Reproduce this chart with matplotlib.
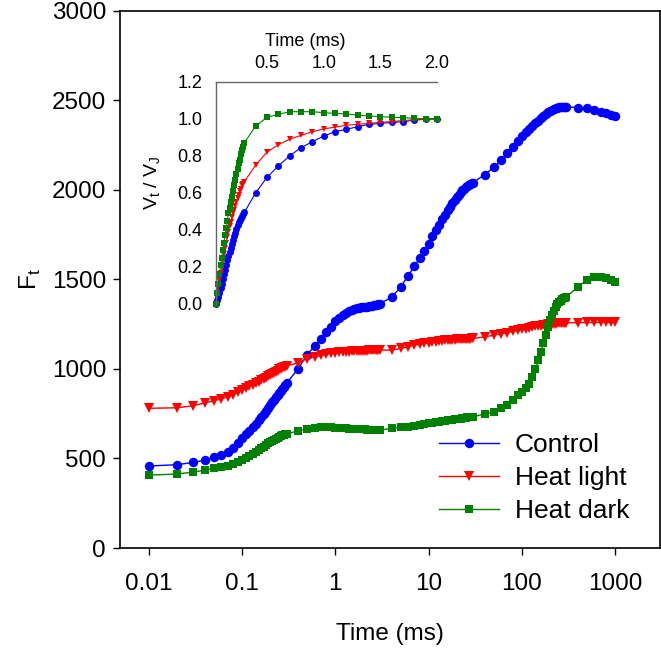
import numpy as np
import matplotlib
matplotlib.use("Agg")
import matplotlib.pyplot as plt

plt.rcParams["font.family"] = ["Liberation Sans", "DejaVu Sans"]

# -------------------------------
# main transient data (time in ms, Ft)
# -------------------------------

t_main = np.round(np.concatenate([
    np.arange(0.01, 0.305, 0.01),
    np.arange(0.4, 3.05, 0.1),
    np.arange(4, 31, 1),
    np.arange(40, 310, 10),
    np.arange(400, 1010, 100),
]), 3)

f_control = [
    458, 465, 478, 491, 506, 521, 537, 558, 585, 615,
    636, 656, 675, 694, 712, 730, 748, 766, 783, 800,
    814, 828, 841, 853, 865, 876, 888, 899, 910, 920,
    1002, 1080, 1129, 1168, 1205, 1235, 1265, 1285, 1300, 1312,
    1322, 1330, 1336, 1339, 1342, 1344, 1346, 1347, 1348, 1350,
    1351, 1352, 1354, 1355, 1358, 1361, 1365,
    1399, 1457, 1518, 1572, 1618, 1657, 1699, 1740, 1775, 1805,
    1835, 1860, 1885, 1905, 1925, 1942, 1958, 1972, 1985, 1996,
    2006, 2014, 2021, 2027, 2032, 2036, 2040,
    2085, 2125, 2165, 2205, 2240, 2272, 2300, 2323, 2340, 2356,
    2372, 2386, 2400, 2412, 2423, 2432, 2440, 2446, 2451, 2455,
    2458, 2460, 2461, 2462, 2463, 2463, 2463,
    2459, 2454, 2444, 2435, 2426, 2420, 2413,
]

f_heat_light = [
    780, 783, 794, 811, 822, 833, 844, 855, 869, 882,
    892, 902, 911, 920, 928, 936, 944, 951, 958, 965,
    972, 979, 985, 991, 997, 1001, 1005, 1009, 1013, 1016,
    1034, 1058, 1066, 1075, 1081, 1086, 1089, 1092, 1094, 1096,
    1097, 1098, 1099, 1100, 1100, 1101, 1101, 1102, 1102, 1103,
    1103, 1104, 1104, 1104, 1105, 1105, 1105,
    1105, 1114, 1124, 1133, 1137, 1142, 1146, 1149, 1152, 1154,
    1157, 1159, 1161, 1162, 1163, 1164, 1165, 1166, 1166, 1167,
    1167, 1168, 1168, 1169, 1169, 1170, 1170,
    1179, 1188, 1196, 1203, 1209, 1215, 1220, 1225, 1229, 1233,
    1237, 1240, 1242, 1244, 1246, 1248, 1250, 1251, 1252, 1253,
    1254, 1255, 1256, 1256, 1257, 1257, 1257,
    1258, 1259, 1259, 1260, 1260, 1260, 1260,
]

f_heat_dark = [
    407, 413, 424, 435, 445, 452, 460, 468, 478, 490,
    501, 512, 524, 536, 547, 557, 566, 575, 584, 592,
    599, 605, 611, 616, 621, 625, 629, 632, 634, 636,
    655, 664, 670, 673, 673, 673, 672, 671, 670, 668,
    667, 666, 665, 664, 663, 663, 662, 662, 661, 661,
    660, 660, 659, 659, 658, 658, 658,
    668, 673, 677, 681, 686, 691, 696, 699, 702, 705,
    708, 710, 712, 714, 716, 718, 720, 722, 723, 724,
    726, 727, 729, 730, 731, 732, 733,
    748, 761, 780, 798, 826, 854, 870, 891, 918, 955,
    1000, 1048, 1095, 1142, 1190, 1235, 1272, 1300, 1325, 1345,
    1360, 1372, 1381, 1388, 1394, 1398, 1402,
    1458, 1496, 1512, 1515, 1508, 1497, 1487,
]

# -------------------------------
# inset data (Vt / VJ, 0.05 - 2 ms)
# -------------------------------

t_inset = np.round(np.concatenate([
    np.arange(0.05, 0.305, 0.01),
    np.arange(0.4, 2.05, 0.1),
]), 3)

v_control = [
    0.0, 0.02, 0.04, 0.06, 0.085, 0.11, 0.135, 0.16, 0.185, 0.21,
    0.235, 0.26, 0.28, 0.30, 0.325, 0.345, 0.365, 0.385, 0.405, 0.425,
    0.44, 0.455, 0.465, 0.475, 0.485, 0.495,
    0.60, 0.684, 0.745, 0.80, 0.844, 0.876, 0.907, 0.93, 0.943, 0.957,
    0.97, 0.975, 0.98, 0.984, 0.993, 0.997, 1.0,
]

v_heat_light = [
    0.0, 0.05, 0.09, 0.13, 0.17, 0.20, 0.24, 0.27, 0.30, 0.33,
    0.36, 0.39, 0.42, 0.44, 0.47, 0.49, 0.51, 0.53, 0.55, 0.57,
    0.59, 0.61, 0.62, 0.64, 0.65, 0.66,
    0.75, 0.82, 0.86, 0.89, 0.91, 0.93, 0.945, 0.955, 0.965, 0.97,
    0.975, 0.98, 0.985, 0.99, 0.995, 0.998, 1.0,
]

v_heat_dark = [
    0.0, 0.06, 0.11, 0.16, 0.21, 0.25, 0.29, 0.33, 0.37, 0.41,
    0.45, 0.49, 0.52, 0.55, 0.58, 0.61, 0.64, 0.67, 0.70, 0.73,
    0.76, 0.78, 0.81, 0.83, 0.85, 0.87,
    0.961, 1.008, 1.024, 1.038, 1.038, 1.038, 1.033, 1.029, 1.026, 1.02,
    1.015, 1.011, 1.008, 1.006, 1.002, 1.0, 1.0,
]

labels = ["Control", "Heat light", "Heat dark"]
colors = ["#0000ff", "#ff0000", "#008000"]
markers = ["o", "v", "s"]


# -------------------------------
# main plot
# -------------------------------

fig = plt.figure(figsize=(6.61, 6.49), dpi=100)
ax = fig.add_axes([0.1815, 0.1556, 0.817, 0.828])

for f, lab, c, m, ms in zip([f_control, f_heat_light, f_heat_dark], labels,
                            colors, markers, [6.8, 6.8, 5.8]):
    ax.plot(t_main, f, color=c, marker=m, markersize=ms, lw=1,
            markeredgewidth=0, label=lab)

ax.set_xscale("log")
ax.set_xlim(0.0049, 3030)
ax.set_ylim(0, 3000)
ax.set_xticks([0.01, 0.1, 1, 10, 100, 1000])
ax.set_xticklabels(["0.01", "0.1", "1", "10", "100", "1000"])
ax.xaxis.set_minor_locator(matplotlib.ticker.NullLocator())
ax.set_yticks(range(0, 3001, 500))
ax.tick_params(axis="both", direction="out", length=5, width=1,
               labelsize=17.5, pad=5)
ax.tick_params(axis="x", pad=13)
for s in ax.spines.values():
    s.set_linewidth(1.2)

ax.set_xlabel("Time (ms)", fontsize=17.5, labelpad=20)
ax.set_ylabel("F$_\\mathregular{t}$", fontsize=17.5, labelpad=6)

ax.legend(loc="upper left", bbox_to_anchor=(0.664, 0.3328),
          bbox_transform=fig.transFigure, frameon=False,
          fontsize=19, handlelength=2.27, handletextpad=0.6,
          labelspacing=0.34, borderpad=0, borderaxespad=0)


# -------------------------------
# inset
# -------------------------------

ins = fig.add_axes([0.3268, 0.5316, 0.3343, 0.3425])
for v, c, m, ms in zip([v_control, v_heat_light, v_heat_dark], colors,
                       markers, [5, 5, 4.5]):
    ins.plot(t_inset, v, color=c, marker=m, markersize=ms, lw=0.8,
             markeredgewidth=0, clip_on=False)

ins.set_xlim(0.05, 2.0)
ins.set_ylim(0, 1.2)
ins.set_xticks([0.5, 1.0, 1.5, 2.0])
ins.set_xticklabels(["0.5", "1.0", "1.5", "2.0"])
ins.set_yticks(np.arange(0, 1.21, 0.2))
ins.set_yticklabels([f"{y:.1f}" for y in np.arange(0, 1.21, 0.2)])
ins.xaxis.tick_top()
ins.xaxis.set_label_position("top")
ins.tick_params(axis="both", length=0, labelsize=13)
ins.tick_params(axis="y", pad=10)
ins.tick_params(axis="x", pad=7)
ins.spines["right"].set_visible(False)
ins.spines["bottom"].set_visible(False)
for s in ["left", "top"]:
    ins.spines[s].set_color("#666666")
    ins.spines[s].set_linewidth(1)
ins.patch.set_alpha(0)
ins.set_xlabel("Time (ms)", fontsize=13, labelpad=5)
ins.xaxis.set_label_coords(0.405, 1.16)
ins.set_ylabel("V$_\\mathregular{t}$ / V$_\\mathregular{J}$", fontsize=14)
ins.yaxis.set_label_coords(-0.24, 0.547)

fig.savefig("out.png", dpi=100)
